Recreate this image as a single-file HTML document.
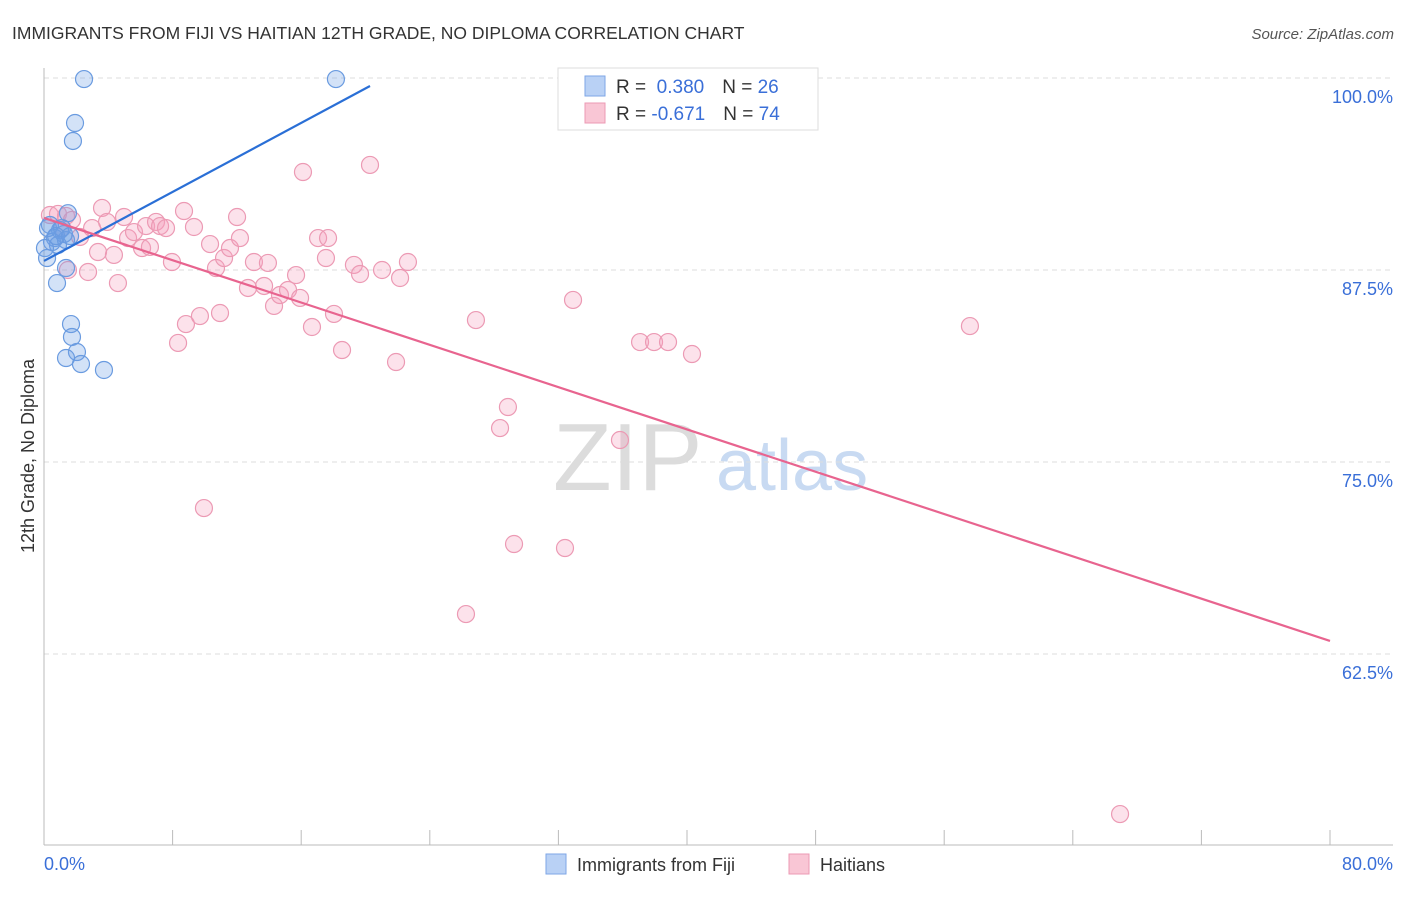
<!DOCTYPE html>
<html><head><meta charset="utf-8"><style>
body{margin:0;background:#fff;font-family:"Liberation Sans",sans-serif}
svg text{font-family:"Liberation Sans",sans-serif}
</style></head><body>
<svg id="chart" width="1406" height="892">
<text x="12" y="39" font-size="17.5" fill="#333">IMMIGRANTS FROM FIJI VS HAITIAN 12TH GRADE, NO DIPLOMA CORRELATION CHART</text>
<text x="1394" y="39" font-size="15" fill="#555" font-style="italic" text-anchor="end">Source: ZipAtlas.com</text>
<g><text x="553" y="490" font-size="96" font-family="Liberation Serif" fill="#dcdcdc">ZIP</text><text x="716" y="490" font-size="72" fill="#c8daf2">atlas</text></g>
<g id="grid"></g>
<line x1="44" y1="68" x2="44" y2="845" stroke="#bbb"/>
<line x1="44" y1="845" x2="1393" y2="845" stroke="#bbb"/>
<g id="ticks"></g>
<text transform="translate(34,456) rotate(-90)" font-size="18" fill="#333" text-anchor="middle">12th Grade, No Diploma</text>
<text x="44" y="870" font-size="18" fill="#3a6fd8">0.0%</text>
<text x="1393" y="870" font-size="18" fill="#3a6fd8" text-anchor="end">80.0%</text>
<g id="pts"></g>
<g id="lines"></g>
<g>
<rect x="558" y="68" width="260" height="62" fill="#fff" stroke="#ddd"/>
<rect x="585" y="76" width="20" height="20" fill="#b9d1f5" stroke="#7ea6e6"/>
<rect x="585" y="103" width="20" height="20" fill="#f9c6d5" stroke="#ec9ab4"/>
<text x="616" y="93" font-size="19" fill="#333">R = <tspan fill="#3a6fd8">&#160;0.380</tspan><tspan dx="18">N = </tspan><tspan fill="#3a6fd8">26</tspan></text>
<text x="616" y="120" font-size="19" fill="#333">R = <tspan fill="#3a6fd8">-0.671</tspan><tspan dx="18">N = </tspan><tspan fill="#3a6fd8">74</tspan></text>
</g>
<g>
<rect x="546" y="854" width="20" height="20" fill="#b9d1f5" stroke="#7ea6e6"/>
<text x="577" y="871" font-size="18" fill="#333">Immigrants from Fiji</text>
<rect x="789" y="854" width="20" height="20" fill="#f9c6d5" stroke="#ec9ab4"/>
<text x="820" y="871" font-size="18" fill="#333">Haitians</text>
</g>
</svg>
<script>
const yTicks=[100,87.5,75,62.5];
const yTickLabels=["100.0%","87.5%","75.0%","62.5%"];
const xTicks=[0,8,16,24,32,40,48,56,64,72,80];
const fijiX=[2.49,18.16,1.93,1.80,1.49,0.37,1.0,1.24,0.68,0.5,1.37,0.87,0.19,1.37,0.81,1.68,1.74,2.05,1.37,2.3,3.73,0.25,1.12,0.75,1.62,0.06];
const fijiY=[99.93,99.93,97.07,95.9,91.2,90.43,90.1,89.84,89.58,89.32,89.45,89.13,88.28,87.63,86.65,83.98,83.14,82.16,81.77,81.38,80.99,90.23,90.23,89.71,89.71,88.93];
const haitiX=[0.37,0.87,1.37,1.74,1.12,2.24,2.74,1.49,3.61,3.92,2.99,3.36,4.35,4.6,4.98,5.23,5.6,6.1,6.35,6.59,6.97,7.22,7.59,7.96,8.34,8.71,8.83,9.33,9.7,9.95,10.33,10.7,10.95,11.2,11.57,12.01,12.19,12.69,13.06,13.69,13.93,14.31,14.68,15.18,15.68,15.93,16.11,16.67,17.05,17.67,17.54,18.04,18.54,19.28,19.66,20.28,21.03,21.9,22.15,22.64,26.87,28.37,28.86,29.24,32.41,32.91,35.83,26.25,37.08,37.95,38.82,40.31,57.6,66.94];
const haitiY=[91.08,91.15,91.02,90.76,90.23,89.65,87.37,87.5,91.54,90.63,90.23,88.67,88.48,86.65,90.95,89.58,89.97,88.93,90.36,89.0,90.63,90.36,90.23,88.02,82.75,91.34,83.98,90.3,84.5,72.0,89.19,87.63,84.7,88.28,88.93,90.95,89.58,86.33,88.02,86.46,87.96,85.16,85.87,86.2,87.17,85.68,93.88,83.79,89.58,89.58,88.28,84.64,82.29,87.83,87.24,94.34,87.5,81.51,86.98,88.02,84.24,77.21,78.58,69.66,69.4,85.55,76.43,65.1,82.81,82.81,82.81,82.03,83.85,52.08];
const fijiTrendX=[0,20.28];
const fijiTrendY=[88.09,99.48];
const haitiTrendX=[0,80];
const haitiTrendY=[90.89,63.35];
const NS="http://www.w3.org/2000/svg";
function sx(v){return 44+v/80*1286;}
function sy(v){return 78+(100-v)/12.5*192;}
function mk(tag,attrs,parent){const e=document.createElementNS(NS,tag);for(const k in attrs)e.setAttribute(k,attrs[k]);parent.appendChild(e);return e;}
const grid=document.getElementById('grid');
yTicks.forEach((t,i)=>{
 const l=mk('line',{x1:44,x2:1393,y1:sy(t),y2:sy(t),stroke:'#ddd','stroke-dasharray':'5,4'},grid);
 
 
 const tx=mk('text',{x:1393,y:sy(t)+25,'font-size':18,fill:'#3a6fd8','text-anchor':'end'},grid);
 tx.textContent=yTickLabels[i];
 
 
});
const tk=document.getElementById('ticks');
xTicks.forEach(t=>{
 const l=mk('line',{x1:sx(t),x2:sx(t),y1:830,y2:845,stroke:'#bbb'},tk);
 
 
});
const pts=document.getElementById('pts');
haitiX.forEach((v,i)=>{
 const c=mk('circle',{cx:sx(v),cy:sy(haitiY[i]),r:8.5,fill:'rgba(244,160,188,0.3)',stroke:'#ec9ab4','stroke-width':1.2},pts);
 
 
});
fijiX.forEach((v,i)=>{
 const c=mk('circle',{cx:sx(v),cy:sy(fijiY[i]),r:8.5,fill:'rgba(110,160,230,0.3)',stroke:'#6a9be0','stroke-width':1.2},pts);
 
 
});
const ln=document.getElementById('lines');
const a=mk('line',{x1:sx(fijiTrendX[0]),y1:sy(fijiTrendY[0]),x2:sx(fijiTrendX[1]),y2:sy(fijiTrendY[1]),stroke:'#2a6fd6','stroke-width':2.2},ln);


const b=mk('line',{x1:sx(haitiTrendX[0]),y1:sy(haitiTrendY[0]),x2:sx(haitiTrendX[1]),y2:sy(haitiTrendY[1]),stroke:'#e8648f','stroke-width':2.2},ln);


</script>
</body></html>
